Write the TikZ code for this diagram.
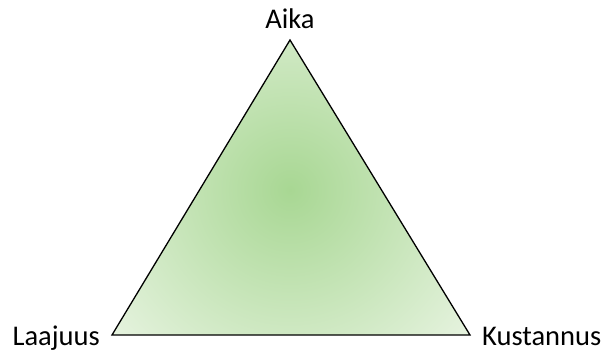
\documentclass[tikz,border=0pt]{standalone}
\usepackage{fontspec}
\setmainfont{Carlito}
\definecolor{gin}{HTML}{A8D793}
\definecolor{gout}{HTML}{E6F3DF}
\tikzset{lbl/.style={font=\fontsize{28.5}{30}\selectfont, inner sep=0pt}}
\begin{document}
\begin{tikzpicture}[x=1pt,y=-1pt]
\useasboundingbox (0,0) rectangle (606,354);
\coordinate (A) at (290,40);
\coordinate (L) at (112,335);
\coordinate (K) at (470,335);
\begin{scope}
\clip (A) -- (L) -- (K) -- cycle;
\shade[inner color=gin, outer color=gout] (290,190) circle[radius=230];
\end{scope}
\draw[line width=1.3pt, line join=miter] (A) -- (L) -- (K) -- cycle;
\node[lbl, anchor=base] (aika) at (290,28) {Aika};
\node[lbl, anchor=base east] (laajuus) at (100,345) {Laajuus};
\node[lbl, anchor=base west] (kust) at (482,345) {Kustannus};
\end{tikzpicture}
\end{document}
